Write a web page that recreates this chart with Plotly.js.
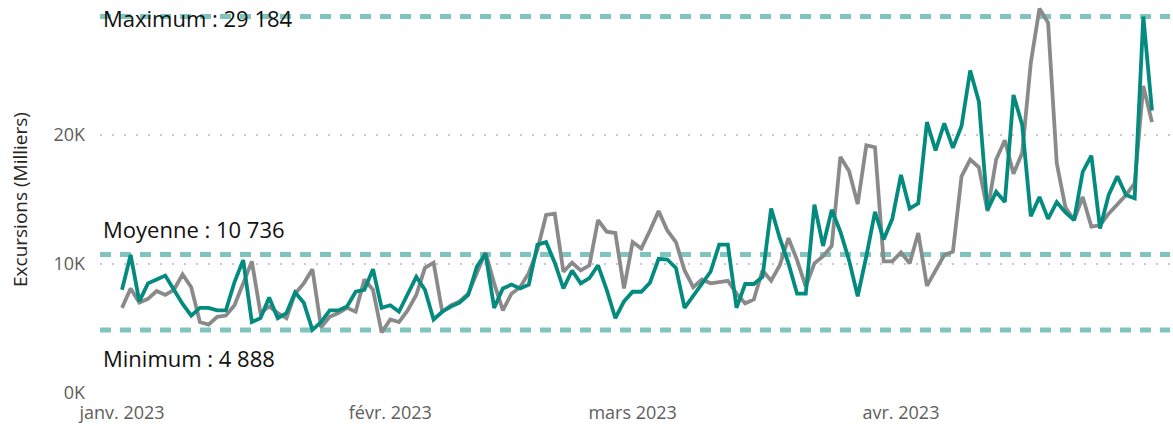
<!DOCTYPE html>
<html>
<head>
<meta charset="utf-8">
<script src="https://cdn.plot.ly/plotly-3.0.1.min.js"></script>
<style>
html,body{margin:0;padding:0;background:#fff;}
#chart{width:1173px;height:426px;}
</style>
</head>
<body>
<div id="chart"></div>
<script>
// Daily excursions, in thousands (K), from 2023-01-01 to 2023-04-30
const startDate = '2023-01-01';
const seriesTeal = [
  8.0, 10.7, 7.1, 8.5, 8.8, 9.1, 8.0, 6.9, 6.0, 6.6,
  6.6, 6.4, 6.4, 8.6, 10.3, 5.5, 5.8, 7.4, 5.8, 6.2,
  7.8, 7.0, 4.888, 5.5, 6.4, 6.4, 6.7, 7.85, 8.0, 9.6,
  6.6, 6.8, 6.3, 7.6, 9.0, 8.0, 5.7, 6.3, 6.7, 7.0,
  7.6, 9.8, 10.8, 6.6, 8.1, 8.4, 8.1, 8.4, 11.5, 11.7,
  10.1, 8.1, 9.5, 8.5, 8.9, 9.9, 8.0, 5.8, 7.1, 7.85,
  7.85, 8.55, 10.4, 10.35, 9.7, 6.6, 7.5, 8.5, 9.4, 11.5,
  11.5, 6.6, 8.45, 8.45, 9.0, 14.3, 12.0, 10.05, 7.7, 7.7,
  14.6, 11.4, 14.2, 12.5, 10.3, 7.5, 10.6, 14.05, 11.9, 13.5,
  16.9, 14.3, 14.7, 21.0, 18.8, 20.9, 19.0, 20.7, 25.0, 22.6,
  14.2, 15.6, 14.8, 23.1, 20.8, 13.7, 15.2, 13.5, 14.8, 14.0,
  13.4, 17.15, 18.4, 12.75, 15.35, 16.8, 15.35, 15.1, 29.184, 21.9
];
const seriesGray = [
  6.6, 8.1, 7.0, 7.3, 7.9, 7.6, 8.0, 9.2, 8.2, 5.5,
  5.3, 5.9, 6.0, 6.8, 8.5, 10.2, 6.2, 6.7, 6.2, 5.8,
  7.7, 8.5, 9.6, 5.1, 5.9, 6.2, 6.6, 6.3, 8.8, 8.0,
  4.7, 5.7, 5.5, 6.4, 7.6, 9.7, 10.1, 6.3, 6.8, 7.1,
  7.7, 9.3, 10.9, 8.5, 6.4, 7.7, 8.2, 9.3, 11.1, 13.8,
  13.9, 9.4, 10.1, 9.5, 9.9, 13.4, 12.5, 12.4, 8.1, 11.7,
  11.2, 12.6, 14.1, 12.6, 11.7, 9.5, 8.2, 8.8, 8.5, 8.6,
  8.7, 7.7, 6.95, 7.25, 9.5, 8.7, 9.9, 12.0, 10.3, 8.25,
  10.05, 10.6, 11.4, 18.3, 17.2, 14.65, 19.2, 19.05, 10.2, 10.2,
  10.9, 10.05, 12.4, 8.3, 9.5, 10.7, 10.95, 16.8, 18.1, 17.5,
  14.1, 18.1, 19.6, 17.0, 18.6, 25.6, 29.8, 28.7, 17.8, 14.4,
  13.4, 15.2, 12.9, 13.0, 13.9, 14.6, 15.35, 16.25, 23.8, 21.0
];
// Reference lines (values in K) and their labels
const refNames = ['Maximum', 'Moyenne', 'Minimum'];
const refValues = [29.184, 10.736, 4.888];
const refLabels = ['Maximum : 29 184', 'Moyenne : 10 736', 'Minimum : 4 888'];
// Axis ticks
const monthTicks = ['2023-01-01', '2023-02-01', '2023-03-01', '2023-04-01'];
const monthLabels = ['janv. 2023', 'févr. 2023', 'mars 2023', 'avr. 2023'];
const yTickVals = [0, 10, 20];
const yTickText = ['0K', '10K', '20K'];

function dayString(i) {
  const d = new Date(startDate + 'T00:00:00Z');
  d.setUTCDate(d.getUTCDate() + i);
  return d.toISOString().slice(0, 10);
}
const dates = seriesTeal.map((_, i) => dayString(i));

const FONT = '"Segoe UI", "Open Sans", "Noto Sans", sans-serif';
const teal = '#048B7F';
const gray = '#8A8A8A';
const refColor = 'rgba(0,140,126,0.5)';

const traces = [
  {x: dates, y: seriesGray, type: 'scatter', mode: 'lines', name: 'Gris',
   line: {color: gray, width: 3.8}, hoverinfo: 'skip'},
  {x: dates, y: seriesTeal, type: 'scatter', mode: 'lines', name: 'Excursions',
   line: {color: teal, width: 3.8}, hoverinfo: 'skip'}
];

const shapes = refValues.map(v => ({
  type: 'line', xref: 'paper', x0: 0, x1: 1, yref: 'y', y0: v, y1: v,
  line: {color: refColor, width: 5, dash: '11px,9px'}, layer: 'below'
}));

const labelShift = [-1, 26, -28];
const annotations = refLabels.map((t, i) => ({
  text: t, xref: 'paper', x: 0, xanchor: 'left', xshift: 1,
  yref: 'y', y: refValues[i], yanchor: 'middle', yshift: labelShift[i],
  showarrow: false, font: {family: FONT, size: 22, color: '#111'}
}));

const layout = {
  width: 1173, height: 426,
  margin: {l: 100, r: 3, t: 6, b: 33, pad: 0},
  paper_bgcolor: '#fff', plot_bgcolor: '#fff',
  showlegend: false,
  xaxis: {
    type: 'date',
    range: ['2022-12-29 11:00', '2023-05-02 02:00'],
    tickmode: 'array', tickvals: monthTicks, ticktext: monthLabels,
    showgrid: false, zeroline: false, showline: false, ticks: '',
    ticklabelstandoff: 7,
    tickfont: {family: FONT, size: 18, color: '#605E5C'}
  },
  yaxis: {
    range: [0, 30],
    tickmode: 'array', tickvals: yTickVals, ticktext: yTickText,
    showgrid: true, gridcolor: '#C8C8C8', gridwidth: 1.5, griddash: '1.5px,10.5px',
    zeroline: false, showline: false, ticks: '',
    ticklabelstandoff: 14,
    tickfont: {family: FONT, size: 18, color: '#605E5C'},
    title: {text: 'Excursions (Milliers)', standoff: 20,
            font: {family: FONT, size: 19, color: '#252423'}}
  },
  shapes: shapes,
  annotations: annotations
};

Plotly.newPlot('chart', traces, layout, {displayModeBar: false, staticPlot: true});
</script>
</body>
</html>
